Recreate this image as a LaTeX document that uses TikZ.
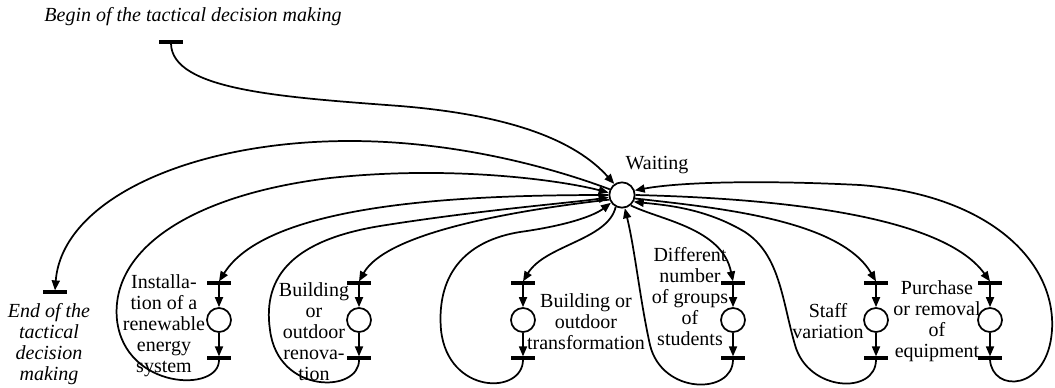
\documentclass[tikz,border=0pt]{standalone}
\usepackage{fontspec}
\setmainfont{Liberation Serif}
\usetikzlibrary{arrows.meta}
\begin{document}
\begin{tikzpicture}[x=0.75pt,y=-0.75pt,
  line width=1.3pt,
  arr/.style={-{Triangle[length=7.5pt,width=6pt]}},
  bar/.style={rectangle,draw=none,fill=black,minimum width=18pt,minimum height=2.4pt,inner sep=0pt,outer sep=0pt},
  place/.style={circle,draw,fill=white,minimum size=18pt,inner sep=0pt,line width=1.3pt},
  lbl/.style={align=center,inner sep=0pt,font=\fontsize{15}{15.75}\selectfont},
  ilbl/.style={align=center,inner sep=0pt,font=\itshape\fontsize{15}{15.75}\selectfont}
]
\useasboundingbox (0,0) rectangle (1055,387);

% central waiting place
\node[place,minimum size=19pt] (W) at (622,195) {};
\node[lbl] (Wl) at (657,165) {Waiting};

% begin and end transitions
\node[bar] (B) at (171,42) {};
\node[ilbl] (Bl) at (193,17) {Begin of the tactical decision making};
\node[bar] (E) at (55,292) {};
\node[ilbl] (El) at (49,344) {End of the\\tactical\\decision\\making};

% the six sub-processes: start transition, activity place, end transition
\foreach \i/\x in {1/219,2/359,3/523,4/733,5/876,6/990}{
  \node[bar] (t\i) at (\x,283) {};
  \node[place] (p\i) at (\x,320) {};
  \node[bar] (b\i) at (\x,358) {};
  \draw[arr] (t\i) -- (p\i);
  \draw[arr] (p\i) -- (b\i);
}

% sub-process labels
\node[lbl] (l1) at (164,326) {Installa-\\tion of a\\renewable\\energy\\system};
\node[lbl] (l2) at (314,332) {Building\\or\\outdoor\\renova-\\tion};
\node[lbl] (l3) at (586,322) {Building or\\outdoor\\transformation};
\node[lbl] (l4) at (690,297) {Different\\number\\of groups\\of\\students};
\node[lbl] (l5) at (828,321) {Staff\\variation};
\node[lbl] (l6) at (937,321) {Purchase\\or removal\\of\\equipment};

% begin / end arcs
\draw[arr] (B.south) .. controls (172,90) and (280,97) .. (400,106)
  .. controls (510,115) and (575,140) .. (W.125);
\draw[arr] (W.155) .. controls (545,165) and (450,141) .. (350,141)
  .. controls (190,141) and (62,200) .. (E.north);

% sub-process 1
\draw[arr] (b1.south) .. controls (220,393) and (125,390) .. (117,320)
  .. controls (110,250) and (190,195) .. (330,178)
  .. controls (450,165) and (560,180) .. (W.170);
\draw[arr] (W.180) .. controls (480,195) and (270,200) .. (t1.north);

% sub-process 2
\draw[arr] (b2.south) .. controls (360,393) and (278,395) .. (270,330)
  .. controls (262,275) and (295,240) .. (380,226)
  .. controls (480,210) and (570,203) .. (W.190);
\draw[arr] (W.200) .. controls (500,212) and (385,235) .. (t2.north);

% sub-process 3
\draw[arr] (b3.south) .. controls (523,395) and (448,395) .. (441,330)
  .. controls (436,270) and (470,240) .. (520,232)
  .. controls (570,225) and (595,215) .. (W.215);
\draw[arr] (W.242) .. controls (608,240) and (545,245) .. (t3.north);

% sub-process 4
\draw[arr] (b4.south) .. controls (733,395) and (662,395) .. (650,345)
  .. controls (640,300) and (635,250) .. (W.282);
\draw[arr] (W.310) .. controls (660,220) and (722,228) .. (t4.north);

% sub-process 5
\draw[arr] (b5.south) .. controls (876,395) and (808,392) .. (795,345)
  .. controls (782,300) and (780,255) .. (745,232)
  .. controls (705,208) and (665,205) .. (W.330);
\draw[arr] (W.345) .. controls (720,208) and (840,220) .. (t5.north);

% sub-process 6
\draw[arr] (b6.south) .. controls (992,393) and (1048,392) .. (1052,330)
  .. controls (1056,262) and (990,195) .. (860,185)
  .. controls (760,180) and (680,182) .. (W.20);
\draw[arr] (W.0) .. controls (760,198) and (940,212) .. (t6.north);
\end{tikzpicture}
\end{document}
